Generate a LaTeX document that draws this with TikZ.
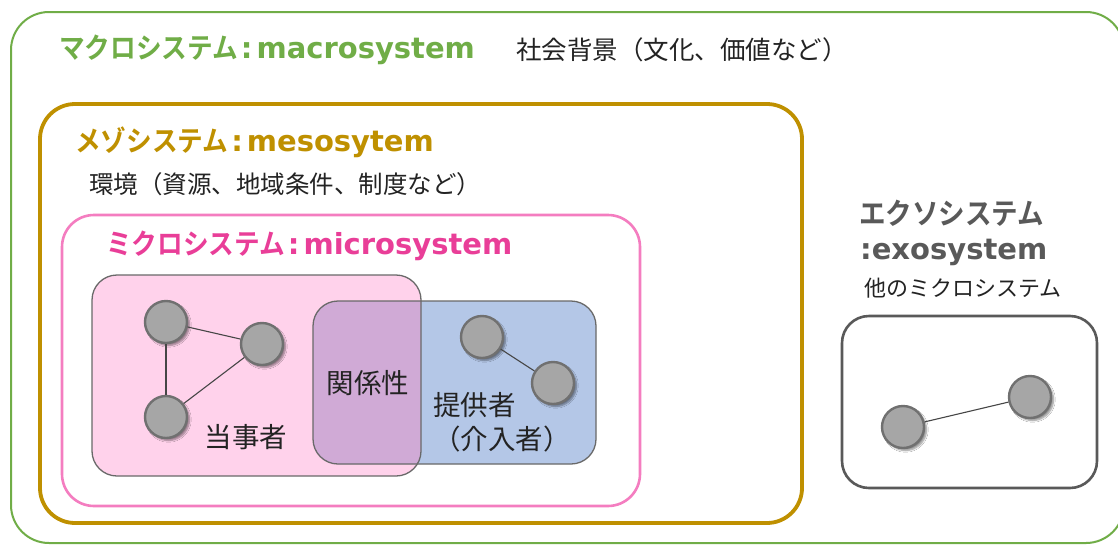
\documentclass[tikz,border=0pt]{standalone}
\usepackage{fontspec}
\newfontfamily\jp{Noto Sans CJK JP}
\newfontfamily\jpbt{Noto Sans CJK JP Bold}[FakeStretch=0.9]
\newfontfamily\dv{DejaVu Sans}
\usetikzlibrary{shadows.blur}
\definecolor{macroc}{RGB}{112,173,71}
\definecolor{mesoc}{RGB}{191,144,0}
\definecolor{microline}{RGB}{244,125,192}
\definecolor{microtxt}{RGB}{233,62,152}
\definecolor{exotxt}{RGB}{89,89,89}
\definecolor{bodytxt}{RGB}{35,35,35}
\definecolor{pinkfill}{RGB}{255,210,235}
\definecolor{bluefill}{RGB}{180,199,231}
\definecolor{purplefill}{RGB}{208,170,214}
\definecolor{boxline}{RGB}{105,105,105}
\definecolor{nodefill}{RGB}{166,166,166}
\definecolor{nodeline}{RGB}{112,112,112}
\definecolor{linkc}{RGB}{70,70,70}
% kana part, then latin part with a colon in between
\newcommand{\ttlK}[2][28.5]{{\jpbt\fontsize{#1}{32}\selectfont #2}}
\newcommand{\ttlL}[1]{{\dv\bfseries\fontsize{29}{34}\selectfont #1}}
\newcommand{\ttlC}{{\dv\bfseries\fontsize{29}{34}\selectfont\hspace{3pt}:\hspace{4pt}}}
\tikzset{
  person/.style={circle, draw=nodeline, line width=2.4pt, fill=nodefill, minimum size=42pt, inner sep=0pt,
    blur shadow={shadow xshift=2.5pt, shadow yshift=-2.5pt, shadow blur steps=6, shadow opacity=45}},
  link/.style={draw=linkc, line width=1.1pt},
  ttl/.style={anchor=west, inner sep=0pt},
  body/.style={inner sep=0pt, text=bodytxt, font=\jp\fontsize{24.5}{28}\selectfont},
  big/.style={inner sep=0pt, text=bodytxt, font=\jp\fontsize{27.5}{34}\selectfont},
}
\begin{document}
\begin{tikzpicture}[x=1pt,y=-1pt]
\useasboundingbox (0,0) rectangle (1118,544);
\fill[white] (0,0) rectangle (1118,544);
% containers
\draw[macroc, line width=2pt, rounded corners=38pt] (11,12) rectangle (1124,543);
\draw[mesoc, line width=3.8pt, rounded corners=35pt] (40,104) rectangle (802,523);
\draw[microline, line width=2.6pt, rounded corners=32pt] (62,215) rectangle (640,506);
% client / provider boxes
\fill[pinkfill, rounded corners=25pt] (92,275) rectangle (421,476);
\fill[bluefill, rounded corners=25pt] (313,301) rectangle (596,464);
\begin{scope}
  \clip[rounded corners=25pt] (92,275) rectangle (421,476);
  \fill[purplefill, rounded corners=25pt] (313,301) rectangle (596,464);
\end{scope}
\draw[boxline, line width=1.3pt, rounded corners=25pt] (92,275) rectangle (421,476);
\draw[boxline, line width=1.3pt, rounded corners=25pt] (313,301) rectangle (596,464);
% exo box
\draw[exotxt, line width=2.6pt, rounded corners=27pt] (842,316) rectangle (1097,488);
% titles
\node[ttl, text=macroc] (tmacro) at (59,50) {\ttlK{マクロシステム}\ttlC\ttlL{macrosystem}};
\node[body, anchor=west, font=\jp\fontsize{25.5}{30}\selectfont] (smacro) at (516,50) {社会背景（文化、価値など）};
\node[ttl, text=mesoc] (tmeso) at (75,142) {\ttlK{メゾシステム}\ttlC\ttlL{mesosytem}};
\node[body, anchor=west] (smeso) at (89,184) {環境（資源、地域条件、制度など）};
\node[ttl, text=microtxt] (tmicro) at (106,246) {\ttlK{ミクロシステム}\ttlC\ttlL{microsystem}};
\node[ttl, text=exotxt] (texo1) at (859,213) {\ttlK[29.5]{エクソシステム}};
\node[ttl, text=exotxt] (texo2) at (860,252) {\ttlL{:exosystem}};
\node[body, font=\jp\fontsize{22}{26}\selectfont] (sexo) at (963,288) {他のミクロシステム};
% labels
\node[big] (client) at (246,437) {当事者};
\node[big] (rel) at (368,383) {関係性};
\node[big, anchor=north west, align=left] (prov) at (433,392) {提供者\\（介入者）};
% people
\node[person] (c1) at (166,322) {};
\node[person] (c2) at (262,344) {};
\node[person] (c3) at (166,417) {};
\node[person] (p1) at (482,337) {};
\node[person] (p2) at (553,383) {};
\node[person] (e1) at (903,427) {};
\node[person] (e2) at (1030,397) {};
\draw[link] (c1) -- (c2);
\draw[link] (c1) -- (c3);
\draw[link] (c3) -- (c2);
\draw[link] (p1) -- (p2);
\draw[link] (e1) -- (e2);
\end{tikzpicture}
\end{document}
